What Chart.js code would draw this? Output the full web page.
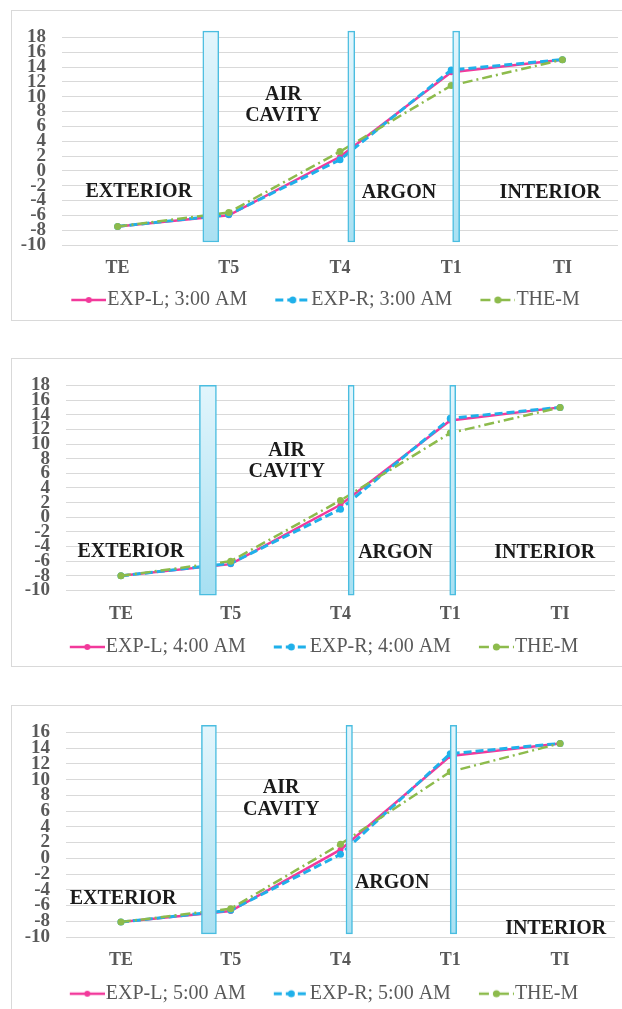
<!DOCTYPE html>
<html><head><meta charset="utf-8">
<script src="https://cdn.jsdelivr.net/npm/chart.js@4.4.0/dist/chart.umd.min.js"></script>
<style>
html,body{margin:0;padding:0;background:#fff;overflow:hidden;width:622px;height:1009px;position:relative;}
.frame{position:absolute;border:1px solid #d9d9d9;background:#fff;box-sizing:border-box;}
canvas{position:absolute;}
</style></head><body>
<div class="frame" style="left:11px;top:10px;width:640px;height:311px"></div>
<div class="frame" style="left:11px;top:358px;width:640px;height:309px"></div>
<div class="frame" style="left:11px;top:705px;width:640px;height:330px"></div>
<canvas id="c1" width="611" height="311" style="left:11px;top:10px;width:611px;height:311px"></canvas>
<canvas id="c2" width="608" height="309" style="left:11px;top:358px;width:608px;height:309px"></canvas>
<canvas id="c3" width="608" height="310" style="left:11px;top:705px;width:608px;height:310px"></canvas>
<script>
// ---- data ----
const categories = ['TE', 'T5', 'T4', 'T1', 'TI'];
const seriesNames = ['EXP-L', 'EXP-R', 'THE-M'];
const timeLabels = ['3:00 AM', '4:00 AM', '5:00 AM'];

const expL_3am = [-7.5, -6.0, 1.9, 13.3, 15.0];
const expR_3am = [-7.5, -5.9, 1.5, 13.6, 15.0];
const theM_3am = [-7.5, -5.6, 2.6, 11.5, 15.0];

const expL_4am = [-8.0, -6.4, 1.7, 13.2, 15.0];
const expR_4am = [-8.0, -6.3, 1.1, 13.5, 15.0];
const theM_4am = [-8.0, -6.0, 2.3, 11.5, 15.0];

const expL_5am = [-8.1, -6.7, 1.1, 13.0, 14.6];
const expR_5am = [-8.1, -6.6, 0.5, 13.3, 14.6];
const theM_5am = [-8.1, -6.4, 1.8, 11.0, 14.6];

const yMin = [-10, -10, -10];
const yMax = [18, 18, 16];
const yStep = 2;

const regionLabels = ['EXTERIOR', 'AIR', 'CAVITY', 'ARGON', 'INTERIOR'];

// ---- layout / style (not data) ----
const layouts = [
  { id: 'c1', padTop: 18, padBottom: 1, yWidth: 51, xHeight: 35, tickPad: 13,
    paneX: [0.91, 2.07, 2.95], paneW: [16, 7, 7], paneY: [-9.6, 18.85],
    notes: [[0.19, -2.8], [1.49, 10.2], [1.49, 7.4], [2.53, -2.9], [3.89, -2.9]] },
  { id: 'c2', padTop: 19, padBottom: 0, yWidth: 55, xHeight: 36.5, tickPad: 13,
    paneX: [0.87, 2.07, 2.94], paneW: [17, 6, 6], paneY: [-10.65, 18],
    notes: [[0.09, -4.7], [1.51, 9.1], [1.51, 6.2], [2.50, -4.9], [3.86, -4.9]] },
  { id: 'c3', padTop: 17, padBottom: 1.3, yWidth: 55, xHeight: 36.7, tickPad: 13,
    paneX: [0.87, 2.05, 2.94], paneW: [15, 6.5, 6.5], paneY: [-9.6, 16.9],
    notes: [[0.02, -5.1], [1.46, 8.9], [1.46, 6.2], [2.47, -3.1], [3.96, -8.9]] }
];
const panelSeries = [
  [expL_3am, expR_3am, theM_3am],
  [expL_4am, expR_4am, theM_4am],
  [expL_5am, expR_5am, theM_5am]
];
const lineStyles = [
  { color: '#f2399b', dash: [], width: 2.5, radius: 3, order: 3 },
  { color: '#1fb0ea', dash: [8, 4], width: 3, radius: 3.5, order: 2 },
  { color: '#8dbb4c', dash: [10, 4, 2, 4], width: 2.5, radius: 3.5, order: 1 }
];
const FONT = 'Liberation Serif';

function sampleImage(st) {
  const c = document.createElement('canvas');
  c.width = 62; c.height = 20;
  const g = c.getContext('2d');
  g.strokeStyle = st.color; g.lineWidth = st.width; g.setLineDash(st.dash);
  g.beginPath(); g.moveTo(27, 10); g.lineTo(62, 10); g.stroke();
  g.setLineDash([]);
  g.fillStyle = st.color; g.beginPath(); g.arc(44.5, 10, st.radius, 0, Math.PI * 2); g.fill();
  return c;
}

function paneFill(ctx) {
  const chart = ctx.chart, a = chart.chartArea;
  if (!a) return '#bfe8f5';
  const g = chart.ctx.createLinearGradient(0, a.top, 0, a.bottom);
  g.addColorStop(0, '#e2f5fc');
  g.addColorStop(1, '#a8e0f2');
  return g;
}

const notesPlugin = {
  id: 'notes',
  afterDatasetsDraw(chart, args, opts) {
    const ctx = chart.ctx;
    const xs = chart.scales.xv, ys = chart.scales.y;
    ctx.save();
    ctx.font = 'bold 20px "' + FONT + '"';
    ctx.fillStyle = '#1a1a1a';
    ctx.textAlign = 'center';
    ctx.textBaseline = 'middle';
    opts.notes.forEach((p, i) => {
      ctx.fillText(regionLabels[i], xs.getPixelForValue(p[0]), ys.getPixelForValue(p[1]));
    });
    ctx.restore();
  }
};

layouts.forEach((L, pi) => {
  const datasets = [];
  panelSeries[pi].forEach((vals, si) => {
    const st = lineStyles[si];
    datasets.push({
      type: 'line',
      label: seriesNames[si] + (si < 2 ? '; ' + timeLabels[pi] : ''),
      data: vals,
      xAxisID: 'x', yAxisID: 'y',
      borderColor: st.color, backgroundColor: st.color,
      borderWidth: st.width, borderDash: st.dash,
      pointRadius: st.radius, pointBackgroundColor: st.color, pointBorderWidth: 0,
      tension: 0, fill: false, order: st.order,
      _style: st
    });
  });
  L.paneX.forEach((px, k) => {
    datasets.push({
      type: 'bar',
      label: 'pane' + k,
      data: [{ x: px, y: [L.paneY[0], L.paneY[1]] }],
      xAxisID: 'xp' + k, yAxisID: 'y',
      barThickness: L.paneW[k],
      backgroundColor: paneFill,
      borderColor: '#4abde0', borderWidth: 1.5, borderSkipped: false,
      clip: false, order: 0
    });
  });
  const hiddenLin = { type: 'linear', display: false, min: -0.5, max: 4.5, offset: false };
  new Chart(document.getElementById(L.id), {
    data: { labels: categories, datasets },
    options: {
      responsive: false, devicePixelRatio: 1, animation: false,
      layout: { padding: { top: L.padTop, bottom: L.padBottom, left: 0, right: 0 } },
      plugins: {
        tooltip: { enabled: false },
        legend: {
          position: 'bottom',
          labels: {
            usePointStyle: true, pointStyleWidth: 44, padding: 10,
            color: '#595959', font: { family: FONT, size: 20 },
            generateLabels: (chart) => chart.data.datasets
              .map((ds, i) => ({ ds, i }))
              .filter(o => o.ds.type === 'line')
              .map(o => ({
                text: o.ds.label, fillStyle: o.ds.borderColor, strokeStyle: o.ds.borderColor,
                lineWidth: 0, pointStyle: sampleImage(o.ds._style), hidden: false,
                datasetIndex: o.i, fontColor: '#595959'
              }))
          }
        },
        notes: { notes: L.notes }
      },
      scales: {
        x: {
          type: 'category', offset: true,
          grid: { display: false, drawTicks: false }, border: { display: false },
          ticks: { color: '#595959', font: { family: FONT, size: 18, weight: 'bold' }, padding: L.tickPad, maxRotation: 0, autoSkip: false },
          afterFit: s => { s.height = L.xHeight; }
        },
        xv: hiddenLin, xp0: hiddenLin, xp1: hiddenLin, xp2: hiddenLin,
        y: {
          min: yMin[pi], max: yMax[pi],
          grid: { color: '#d9d9d9', lineWidth: 1, drawTicks: false }, border: { display: false },
          ticks: { stepSize: yStep, autoSkip: false, padding: 16, color: '#595959', font: { family: FONT, size: 19, weight: 'bold' } },
          afterFit: s => { s.width = L.yWidth; }
        }
      }
    },
    plugins: [notesPlugin]
  });
});
</script>
</body></html>
